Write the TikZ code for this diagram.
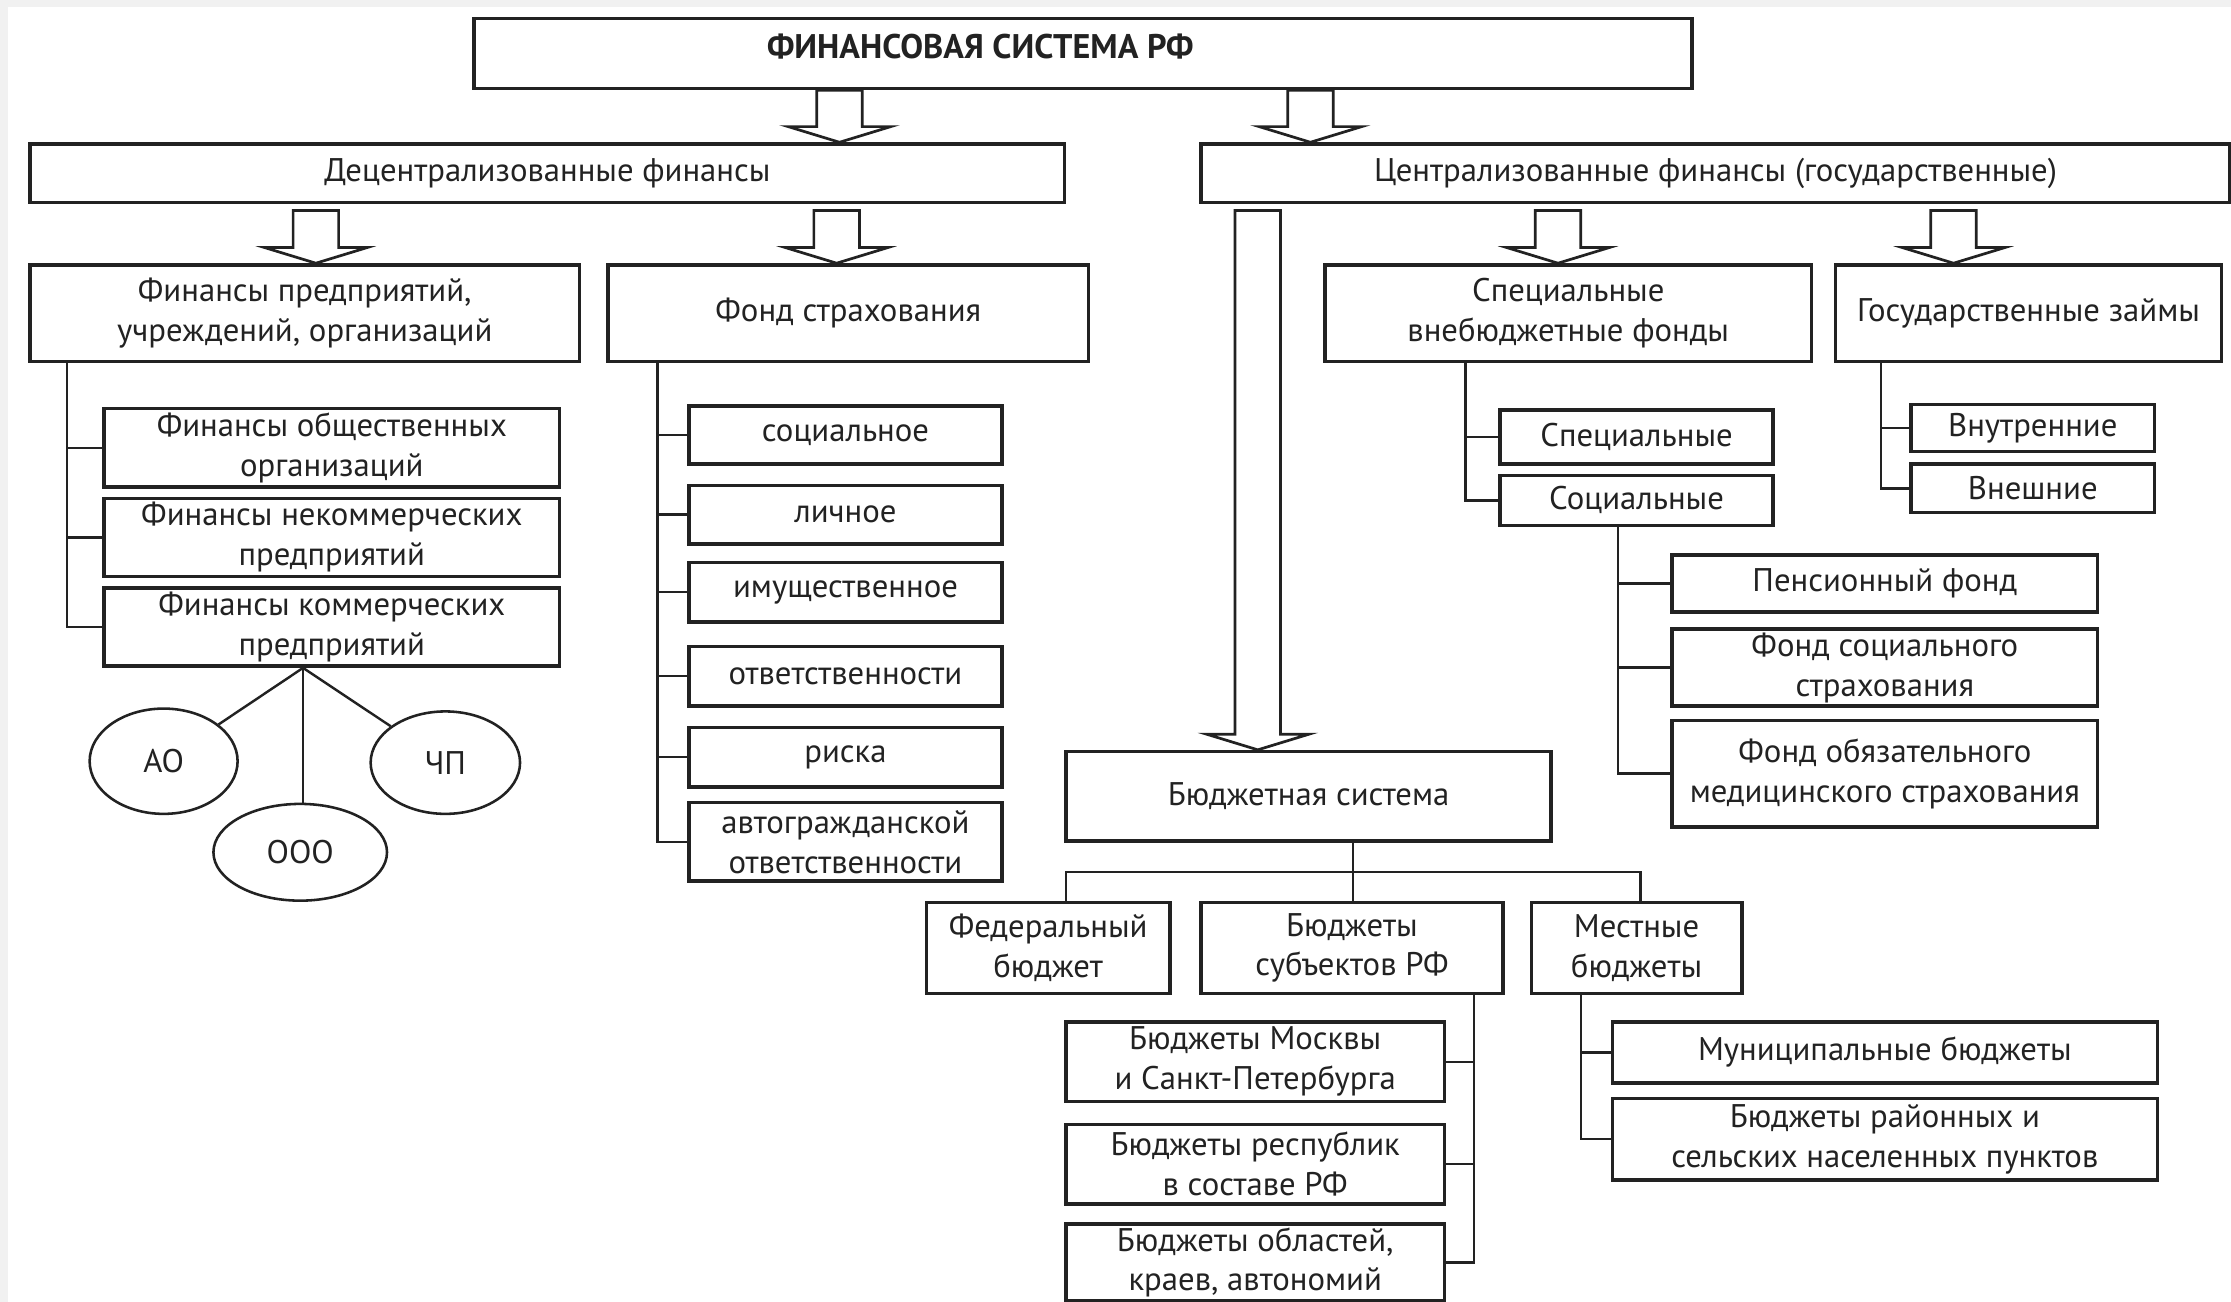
\documentclass[tikz,border=0pt]{standalone}
\usepackage{fontspec}
\setmainfont{PT Sans}
\usetikzlibrary{shapes.geometric,calc}
\definecolor{ink}{HTML}{222222}
\definecolor{bggray}{HTML}{F1F1F1}
\tikzset{
  box/.style={draw=ink, line width=2.4pt, fill=white, anchor=north west, align=center,
    inner sep=0pt, font=\fontsize{23}{28}\selectfont, text=ink},
  conn/.style={draw=ink, line width=1.7pt},
  oval/.style={ellipse, draw=ink, line width=1.8pt, inner sep=0pt, font=\fontsize{23}{28}\selectfont, text=ink},
  harrow/.style={draw=ink, line width=1.9pt, fill=white, line join=miter},
}
% hollow arrow from #1 (top) to #2 (tip)
\newcommand\hollowarr[2]{%
  \draw[harrow] let \p1=#1, \p2=#2 in
    (\x1-16pt,\y1) -- (\x1-16pt,\y2+11pt) -- (\x1-36pt,\y2+11pt) -- (\x1,\y2)
    -- (\x1+36pt,\y2+11pt) -- (\x1+16pt,\y2+11pt) -- (\x1+16pt,\y1) -- cycle;}
\begin{document}
\begin{tikzpicture}[x=1pt,y=-1pt]
\useasboundingbox (0,0) rectangle (1568,915);
\fill[bggray] (0,0) rectangle (1568,915);
\fill[white] (5.5,5) rectangle (1568,915);

% level 0
\node[box, minimum width=856pt, minimum height=49pt] (top) at (332,12) {};
\node[font=\bfseries\fontsize{24}{28}\selectfont, text=ink, inner sep=0pt] (toptext) at (689,33) {ФИНАНСОВАЯ СИСТЕМА РФ};

% level 1
\node[box, minimum width=727pt, minimum height=41pt] (dec) at (20,100) {Децентрализованные финансы};
\node[box, minimum width=723pt, minimum height=41pt] (cen) at (843,100) {Централизованные финансы (государственные)};

% level 2
\node[box, minimum width=386pt, minimum height=68pt] (fp) at (20,185) {Финансы предприятий,\\учреждений, организаций};
\node[box, minimum width=338pt, minimum height=68pt] (fs) at (426,185) {\raisebox{3pt}{Фонд страхования}};
\node[box, minimum width=342pt, minimum height=68pt] (svf) at (930,185) {Специальные\\внебюджетные фонды};
\node[box, minimum width=271pt, minimum height=68pt] (gz) at (1289,185) {Государственные займы};

% left tree
\node[box, minimum width=320pt, minimum height=55pt] (fo) at (72,286) {Финансы общественных\\организаций};
\node[box, minimum width=320pt, minimum height=55pt] (fn) at (72,349) {Финансы некоммерческих\\предприятий};
\node[box, minimum width=320pt, minimum height=55pt] (fk) at (72,412) {Финансы коммерческих\\предприятий};

\node[oval, minimum width=104pt, minimum height=74pt] (ao) at (115,535) {АО};
\node[oval, minimum width=105pt, minimum height=72pt] (chp) at (313,536) {ЧП};
\node[oval, minimum width=122pt, minimum height=68pt] (ooo) at (211,599) {ООО};

% insurance tree
\node[box, minimum width=220pt, minimum height=41pt] (s1) at (483,284) {социальное};
\node[box, minimum width=220pt, minimum height=41pt] (s2) at (483,340) {личное};
\node[box, minimum width=220pt, minimum height=42pt] (s3) at (483,394) {имущественное};
\node[box, minimum width=220pt, minimum height=42pt] (s4) at (483,453) {ответственности};
\node[box, minimum width=220pt, minimum height=42pt] (s5) at (483,510) {\raisebox{3pt}{риска}};
\node[box, minimum width=220pt, minimum height=55pt] (s6) at (483,563) {автогражданской\\ответственности};

% extra-budget funds
\node[box, minimum width=192pt, minimum height=38pt] (sp) at (1053,287) {Специальные};
\node[box, minimum width=192pt, minimum height=35pt] (so) at (1053,333) {Социальные};
\node[box, minimum width=299pt, minimum height=40pt] (pf) at (1174,389) {Пенсионный фонд};
\node[box, minimum width=299pt, minimum height=54pt] (fss) at (1174,441) {Фонд социального\\страхования};
\node[box, minimum width=299pt, minimum height=75pt] (foms) at (1174,505) {Фонд обязательного\\медицинского страхования};

% loans
\node[box, minimum width=171pt, minimum height=33pt] (vn) at (1342,283) {Внутренние};
\node[box, minimum width=171pt, minimum height=34pt] (vsh) at (1342,325) {Внешние};

% budget system
\node[box, minimum width=341pt, minimum height=63pt] (bs) at (748,527) {Бюджетная система};
\node[box, minimum width=171pt, minimum height=64pt] (fb) at (650,633) {Федеральный\\бюджет};
\node[box, minimum width=212pt, minimum height=64pt] (bsub) at (843,633) {Бюджеты\\субъектов РФ};
\node[box, minimum width=148pt, minimum height=64pt] (mb) at (1075,633) {Местные\\бюджеты};
\node[box, minimum width=266pt, minimum height=56pt] (bm) at (748,717) {Бюджеты Москвы\\и Санкт-Петербурга};
\node[box, minimum width=266pt, minimum height=56pt] (br) at (748,789) {Бюджеты республик\\в составе РФ};
\node[box, minimum width=266pt, minimum height=54pt] (bo) at (748,859) {Бюджеты областей,\\краев, автономий};
\node[box, minimum width=383pt, minimum height=43pt] (mun) at (1132,717) {Муниципальные бюджеты};
\node[box, minimum width=383pt, minimum height=57pt] (brn) at (1132,771) {Бюджеты районных и\\сельских населенных пунктов};

% hollow arrows
\hollowarr{(590,0 |- top.south)}{(590,0 |- dec.north)}
\hollowarr{(921,0 |- top.south)}{(921,0 |- cen.north)}
\hollowarr{(222,148)}{(222,0 |- fp.north)}
\hollowarr{(588,148)}{(588,0 |- fs.north)}
\hollowarr{(1095,148)}{(1095,0 |- svf.north)}
\hollowarr{(1373,148)}{(1373,0 |- gz.north)}
\hollowarr{(884,148)}{(884,0 |- bs.north)}

% left tree connectors
\draw[conn] (47,0 |- fp.south) |- (fk.west);
\draw[conn] (47,0 |- fo.west) -- (fo.west);
\draw[conn] (47,0 |- fn.west) -- (fn.west);
\coordinate (fkb) at (213,0 |- fk.south);
\draw[conn] (fkb) -- (ao);
\draw[conn] (fkb) -- (chp);
\draw[conn] (fkb) -- (213,0 |- ooo.north);

% insurance connectors
\draw[conn] (462,0 |- fs.south) |- (s6.west);
\foreach \n in {s1,s2,s3,s4,s5} \draw[conn] (462,0 |- \n.west) -- (\n.west);

% extra-budget connectors
\draw[conn] (1030,0 |- svf.south) |- (so.west);
\draw[conn] (1030,0 |- sp.west) -- (sp.west);
\draw[conn] (1137,0 |- so.south) |- (foms.west);
\draw[conn] (1137,0 |- pf.west) -- (pf.west);
\draw[conn] (1137,0 |- fss.west) -- (fss.west);

% loans connectors
\draw[conn] (1322,0 |- gz.south) |- (vsh.west);
\draw[conn] (1322,0 |- vn.west) -- (vn.west);

% budget connectors
\coordinate (bj) at (951,613);
\draw[conn] (951,0 |- bs.south) -- (bj);
\draw[conn] (749,0 |- fb.north) |- (bj) -| (1153,0 |- mb.north);
\draw[conn] (bj) -- (951,0 |- bsub.north);
\draw[conn] (1036,0 |- bsub.south) |- (bo.east);
\draw[conn] (1036,0 |- bm.east) -- (bm.east);
\draw[conn] (1036,0 |- br.east) -- (br.east);
\draw[conn] (1111,0 |- mb.south) |- (brn.west);
\draw[conn] (1111,0 |- mun.west) -- (mun.west);
\end{tikzpicture}
\end{document}
